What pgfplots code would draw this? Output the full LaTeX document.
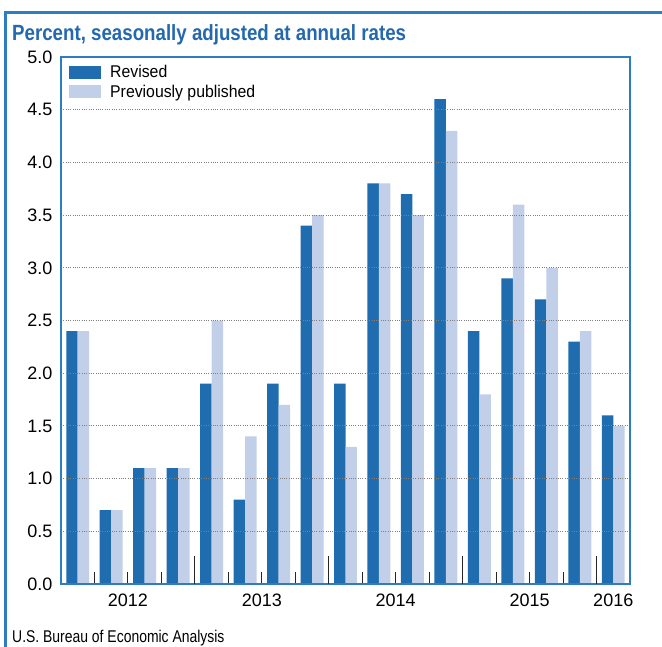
\documentclass[border=0pt]{standalone}
\usepackage{pgfplots}
\pgfplotsset{compat=1.18}
\usepackage{fontspec}
\setmainfont{Liberation Sans}
\definecolor{revised}{HTML}{1F6CAF}
\definecolor{prev}{HTML}{C1CFE8}
\definecolor{frameblue}{HTML}{2E7DC0}
\definecolor{titleblue}{HTML}{2468AE}
\begin{document}
\begin{tikzpicture}
\path[use as bounding box] (0pt,0pt) rectangle (662pt,-646pt);
\draw[frameblue, line width=3pt] (5pt,-648pt) -- (5pt,-12pt) -- (664pt,-12pt);
\node[anchor=base west, inner sep=0pt, text=titleblue, font=\fontsize{22}{24}\selectfont\bfseries] at (12pt,-40pt) {\scalebox{0.85}[1]{Percent, seasonally adjusted at annual rates}};
\node[anchor=base west, inner sep=0pt, font=\fontsize{17}{19}\selectfont] at (12pt,-642pt) {\scalebox{0.82}[1]{U.S. Bureau of Economic Analysis}};
\begin{axis}[
  at={(61pt,-584pt)}, anchor=south west,
  width=569pt, height=527pt, scale only axis,
  xmin=0, xmax=17, ymin=0, ymax=5,
  enlargelimits=false,
  ybar=0pt, bar width=0.343,
  axis on top,
  axis line style={frameblue, line width=2.5pt},
  ytick={0,0.5,1,1.5,2,2.5,3,3.5,4,4.5,5},
  ymajorgrids,
  grid style={black!50, line width=0.9pt, dash pattern=on 0.9pt off 1.4pt},
  yticklabel style={font=\fontsize{18}{20}\selectfont, xshift=-5pt,
    /pgf/number format/.cd, fixed, fixed zerofill, precision=1, assume math mode=true},
  xtick={2,6,10,14,16.5},
  xticklabels={2012,2013,2014,2015,2016},
  xticklabel style={font=\fontsize{18}{20}\selectfont, yshift=-6pt},
  minor xtick={1,2,3,5,6,7,9,10,11,13,14,15},
  minor tick length=12pt,
  major tick length=0pt,
  extra x ticks={4,8,12,16},
  extra x tick labels={},
  extra x tick style={major tick length=28pt, grid=none},
  tick align=inside,
  xtick pos=bottom, ytick pos=left,
  tick style={black!85, line width=1pt},
  legend style={draw=none, fill=none, at={(0,1)}, anchor=north west, xshift=8pt, yshift=-6pt,
    font=\fontsize{17}{19}\selectfont, row sep=2pt, inner sep=0pt,
    /tikz/every odd column/.append style={column sep=7pt}},
  legend cell align=left,
  legend image code/.code={\fill[#1] (0pt,-6.5pt) rectangle (32pt,6.5pt);},
]
\addplot[fill=revised, draw=none] coordinates {(0.5,2.4)(1.5,0.7)(2.5,1.1)(3.5,1.1)(4.5,1.9)(5.5,0.8)(6.5,1.9)(7.5,3.4)(8.5,1.9)(9.5,3.8)(10.5,3.7)(11.5,4.6)(12.5,2.4)(13.5,2.9)(14.5,2.7)(15.5,2.3)(16.5,1.6)};
\addlegendentry{\scalebox{0.93}[1]{Revised}}
\addplot[fill=prev, draw=none] coordinates {(0.5,2.4)(1.5,0.7)(2.5,1.1)(3.5,1.1)(4.5,2.5)(5.5,1.4)(6.5,1.7)(7.5,3.5)(8.5,1.3)(9.5,3.8)(10.5,3.5)(11.5,4.3)(12.5,1.8)(13.5,3.6)(14.5,3.0)(15.5,2.4)(16.5,1.5)};
\addlegendentry{\scalebox{0.93}[1]{Previously published}}
\end{axis}
\end{tikzpicture}
\end{document}
